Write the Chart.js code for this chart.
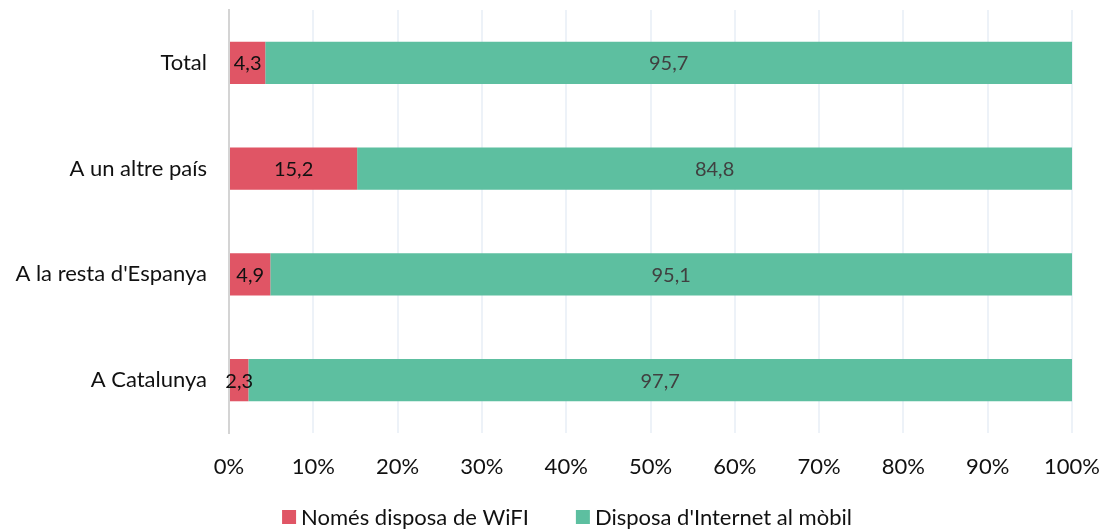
<!DOCTYPE html>
<html lang="ca">
<head>
<meta charset="UTF-8">
<title>Accés a Internet</title>
<script src="https://cdn.jsdelivr.net/npm/chart.js"></script>
<style>
  html, body { margin: 0; padding: 0; background: #fff; }
  #wrap { width: 1105px; height: 530px; }
</style>
</head>
<body>
<div id="wrap"><canvas id="chart"></canvas></div>
<script>
const categories = ['Total', 'A un altre país', "A la resta d'Espanya", 'A Catalunya'];
const nomesWifi = [4.3, 15.2, 4.9, 2.3];
const internetMobil = [95.7, 84.8, 95.1, 97.7];
const xTicks = [0, 10, 20, 30, 40, 50, 60, 70, 80, 90, 100];

const FONT = 'Lato, "Open Sans", sans-serif';

// etiquetes de valor centrades dins de cada segment
const valueLabels = {
  id: 'valueLabels',
  afterDatasetsDraw(chart) {
    const ctx = chart.ctx;
    ctx.save();
    ctx.font = '20px ' + FONT;
    ctx.textAlign = 'center';
    ctx.textBaseline = 'middle';
    chart.data.datasets.forEach((ds, i) => {
      const meta = chart.getDatasetMeta(i);
      meta.data.forEach((bar, j) => {
        const v = ds.data[j];
        const x = (bar.x + bar.base) / 2;
        ctx.fillStyle = ds.labelColor;
        ctx.fillText(v.toFixed(1).replace('.', ','), x, bar.y + 1);
      });
    });
    ctx.restore();
  }
};

// llegenda a sota, dibuixada a mà per controlar els espais
const bottomLegend = {
  id: 'bottomLegend',
  afterDraw(chart) {
    const ctx = chart.ctx;
    const box = 14, gapText = 5, gapItem = 47, cx = 567, cy = 517;
    ctx.save();
    ctx.font = '22px ' + FONT;
    ctx.textBaseline = 'middle';
    const items = chart.data.datasets.map(ds => ({
      text: ds.label,
      color: ds.backgroundColor,
      w: box + gapText + ctx.measureText(ds.label).width
    }));
    const total = items.reduce((s, it) => s + it.w, 0) + gapItem * (items.length - 1);
    let x = cx - total / 2;
    items.forEach(it => {
      ctx.fillStyle = it.color;
      ctx.fillRect(x, cy - box / 2, box, box);
      ctx.fillStyle = '#111';
      ctx.fillText(it.text, x + box + gapText, cy + 1);
      x += it.w + gapItem;
    });
    ctx.restore();
  }
};

new Chart(document.getElementById('chart'), {
  type: 'bar',
  data: {
    labels: categories,
    datasets: [
      {
        label: 'Només disposa de WiFI',
        data: nomesWifi,
        backgroundColor: '#E05565',
        labelColor: '#111111',
        barPercentage: 0.4,
        categoryPercentage: 1
      },
      {
        label: "Disposa d'Internet al mòbil",
        data: internetMobil,
        backgroundColor: '#5DBFA0',
        labelColor: '#404040',
        barPercentage: 0.4,
        categoryPercentage: 1
      }
    ]
  },
  options: {
    indexAxis: 'y',
    responsive: true,
    maintainAspectRatio: false,
    animation: false,
    layout: { padding: { top: 10, right: 33, left: 0, bottom: 30 } },
    scales: {
      x: {
        stacked: true,
        min: 0,
        max: 100,
        afterBuildTicks: axis => { axis.ticks = xTicks.map(v => ({ value: v })); },
        afterFit: axis => {
          axis.height = 67;
          axis.paddingLeft = 0;
          axis.paddingRight = 0;
        },
        grid: { color: '#EDF2F8', lineWidth: 2, drawTicks: false },
        border: { display: false },
        ticks: {
          padding: 21,
          color: '#111',
          font: { family: FONT, size: 22 },
          callback: v => v + '%'
        }
      },
      y: {
        stacked: true,
        afterFit: axis => {
          axis.width = 229;
          axis.paddingTop = 0;
          axis.paddingBottom = 0;
        },
        grid: { display: false, drawTicks: false },
        border: { color: '#D4D4D4', width: 2 },
        ticks: {
          padding: 22,
          color: '#111',
          font: { family: FONT, size: 22 }
        }
      }
    },
    plugins: {
      legend: { display: false },
      tooltip: { enabled: false }
    }
  },
  plugins: [valueLabels, bottomLegend]
});
</script>
</body>
</html>
